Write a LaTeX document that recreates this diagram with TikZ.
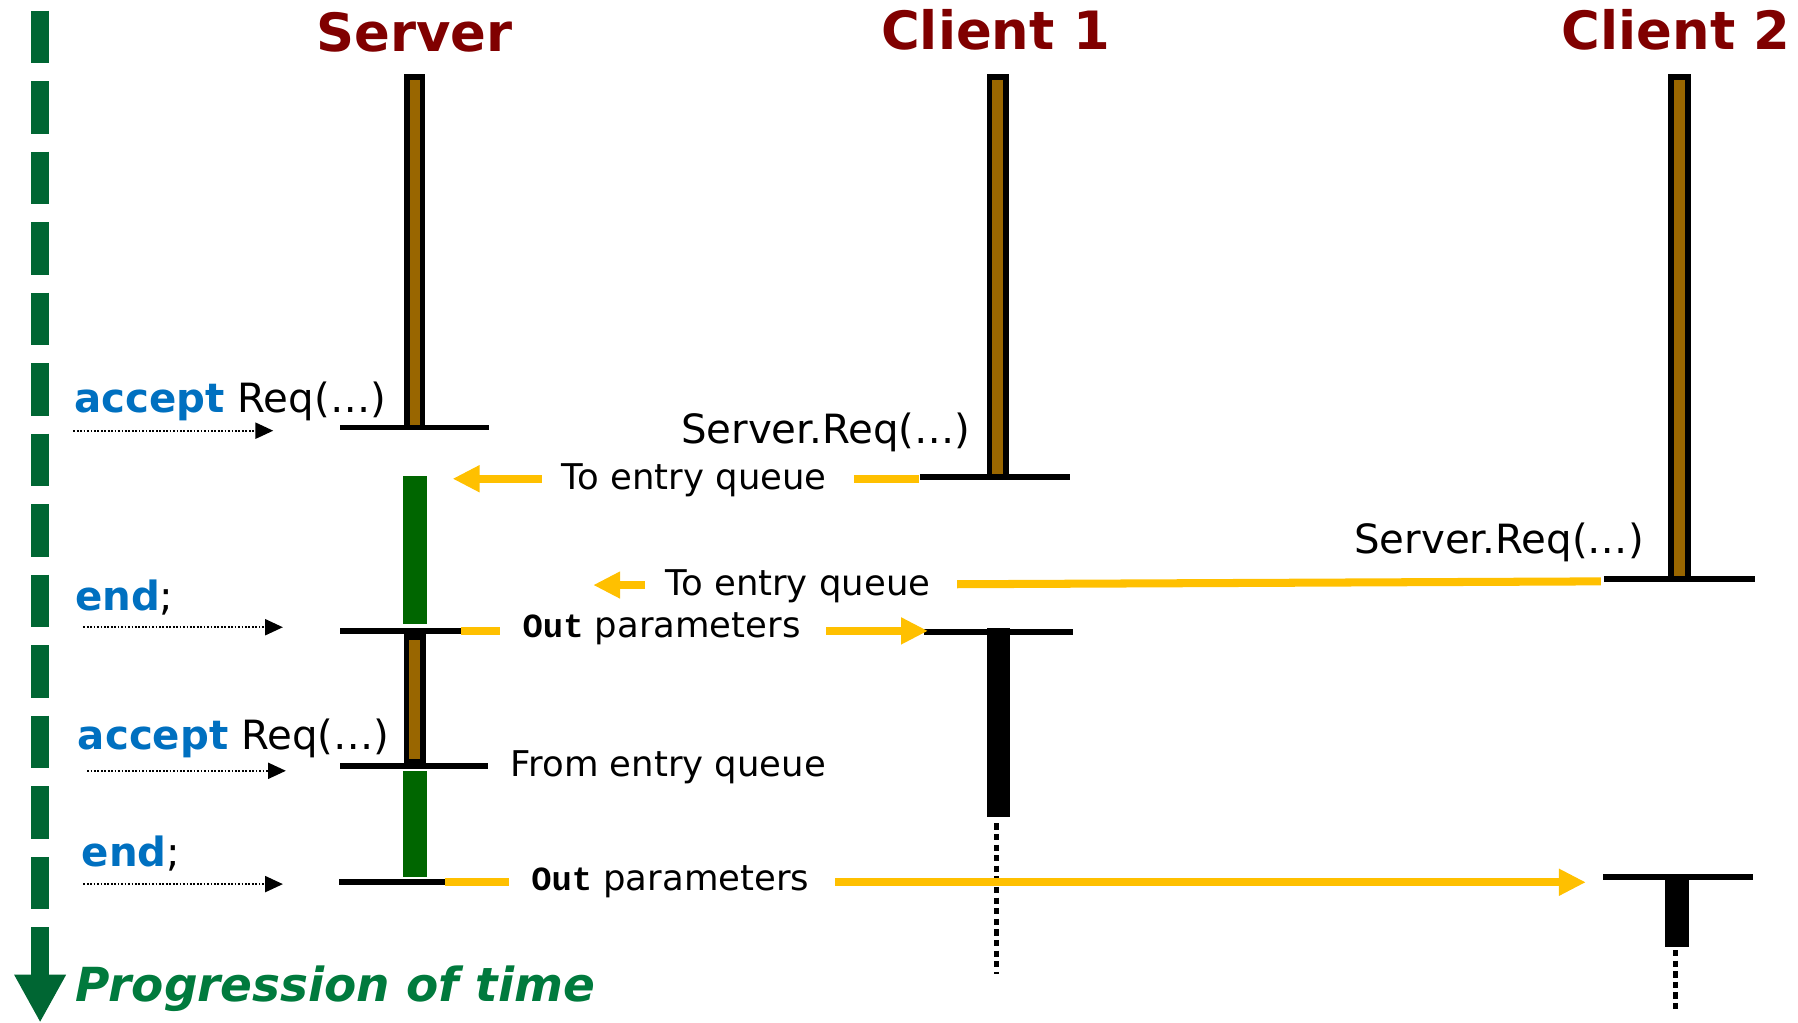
\documentclass[tikz,border=0pt]{standalone}
\usepackage{fontspec}
\setmainfont{DejaVu Sans}
\newfontfamily\monofam{Liberation Mono}
\usetikzlibrary{arrows.meta}

\definecolor{headred}{HTML}{800000}
\definecolor{kwblue}{HTML}{0070C0}
\definecolor{flowyellow}{HTML}{FFC000}
\definecolor{lifebrown}{HTML}{996600}
\definecolor{bargreen}{HTML}{006600}
\definecolor{timegreen}{HTML}{006633}
\definecolor{timetext}{HTML}{007A3D}

\newcommand\headfont{\fontsize{26.2}{30}\selectfont\bfseries}
\newcommand\codefont{\fontsize{20.0}{23}\selectfont}
\newcommand\notefont{\fontsize{17.6}{20}\selectfont}
\newcommand\kw[1]{\textcolor{kwblue}{\bfseries #1}}
\newcommand\outkw{{\monofam\bfseries\fontsize{16.8}{20}\selectfont Out}}

\tikzset{
  lbl/.style={anchor=base west, inner sep=0pt, outer sep=0pt},
  heading/.style={lbl, text=headred, font=\headfont},
  codelbl/.style={lbl, font=\codefont},
  notelbl/.style={lbl, font=\notefont},
  lifebar/.style={draw=black, line width=0.1cm, fill=lifebrown},
  tick/.style={draw=black, line width=0.1cm},
  busybar/.style={fill=black},
  activebar/.style={fill=bargreen},
  flow/.style={draw=flowyellow, line width=0.14cm},
  flowarrow/.style={flow, -{Triangle[length=0.47cm,width=0.44cm]}},
  stamp/.style={draw=black, line width=0.03cm, dash pattern=on 0.03cm off 0.03cm,
                -{Triangle[length=0.31cm,width=0.28cm]}},
  waitline/.style={draw=black, line width=0.08cm, dash pattern=on 0.11cm off 0.075cm},
}

\begin{document}
\begin{tikzpicture}[x=0.02cm, y=-0.02cm]
\useasboundingbox (0,0) rectangle (1568,892);

% ---------- time axis ----------
\coordinate (tstart) at (35,9.3);
\coordinate (tend) at (35,850);
\draw[timegreen, line width=0.32cm, dash pattern=on 0.92cm off 0.31cm] (tstart) -- (tend);
\fill[timegreen] (12.3,850) -- (57.7,850) -- (35,891) -- cycle;
\node[lbl, text=timetext, font=\fontsize{23.3}{27}\selectfont\bfseries\itshape]
  (progress) at (66,873.6) {Progression of time};

% ---------- headings ----------
\node[heading] (hserver) at (276,45) {Server};
\node[heading] (hclient1) at (768.5,43.6) {Client 1};
\node[heading] (hclient2) at (1362,43.6) {Client 2};

% ---------- server ----------
\draw[lifebar] (354.8,67) rectangle (368.5,372.7);
\draw[tick] (296.7,372.7) -- (426.7,372.7);
\fill[activebar] (351.8,415.5) rectangle (372,544.5);
\draw[tick] (296.7,550) -- (402.3,550);
\draw[lifebar] (354.5,555.8) rectangle (369.2,664.6);
\draw[tick] (296.7,668) -- (426,668);
\fill[activebar] (351.8,672.3) rectangle (372,764.6);
\draw[tick] (296,769.2) -- (387.7,769.2);

% ---------- client 1 ----------
\draw[lifebar] (862.8,67) rectangle (877.2,416.2);
\draw[tick] (802.3,416.2) -- (932.7,416.2);
\draw[tick] (806.2,551.2) -- (935.8,551.2);
\fill[busybar] (860.8,547.3) rectangle (880.5,712.2);
\coordinate (c1wtop) at (869,718);
\coordinate (c1wbot) at (869,849);
\draw[waitline] (c1wtop) -- (c1wbot);

% ---------- client 2 ----------
\draw[lifebar] (1457.3,67) rectangle (1472,505);
\draw[tick] (1399,505) -- (1530.5,505);
\draw[tick] (1398.3,765.1) -- (1528.4,765.1);
\fill[busybar] (1452,765) rectangle (1472.8,825.5);
\coordinate (c2wtop) at (1461,828.5);
\coordinate (c2wbot) at (1461,881);
\draw[waitline] (c2wtop) -- (c2wbot);

% ---------- server-side code labels ----------
\node[codelbl] (acc1) at (65,359.5) {\kw{accept} Req(…)};
\node[codelbl] (end1) at (65.5,532.6) {\kw{end};};
\node[codelbl] (acc2) at (68,653.7) {\kw{accept} Req(…)};
\node[codelbl] (end2) at (71.5,755.7) {\kw{end};};

\coordinate (s1a) at (64,375.6);   \coordinate (s1b) at (238.3,375.6);
\coordinate (s2a) at (72.7,547);   \coordinate (s2b) at (246.7,547);
\coordinate (s3a) at (76,672.2);   \coordinate (s3b) at (249.3,672.2);
\coordinate (s4a) at (72.7,771);   \coordinate (s4b) at (246.7,771);
\draw[stamp] (s1a) -- (s1b);
\draw[stamp] (s2a) -- (s2b);
\draw[stamp] (s3a) -- (s3b);
\draw[stamp] (s4a) -- (s4b);

% ---------- calls ----------
\node[codelbl] (call1) at (594,386.6) {Server.Req(…)};
\node[codelbl] (call2) at (1181,482.6) {Server.Req(…)};

% ---------- message flows ----------
\node[notelbl] (q1) at (490,426.7) {To entry queue};
\coordinate (q1r1) at (744.7,417.5); \coordinate (q1r2) at (801.1,417.5);
\coordinate (q1l1) at (472.6,417.5); \coordinate (q1l2) at (394.7,417.5);
\draw[flow] (q1r1) -- (q1r2);
\draw[flowarrow] (q1l1) -- (q1l2);

\node[notelbl] (q2) at (580.5,518.9) {To entry queue};
\coordinate (q2r1) at (834.6,509.5); \coordinate (q2r2) at (1396,507);
\coordinate (q2l1) at (562.5,510.2); \coordinate (q2l2) at (517.3,510.2);
\draw[flow] (q2r1) -- (q2r2);
\draw[flowarrow] (q2l1) -- (q2l2);

\node[notelbl] (out1) at (455.8,556) {\outkw\ parameters};
\coordinate (o1l1) at (402.3,550); \coordinate (o1l2) at (436.4,550);
\coordinate (o1r1) at (720.5,550.2); \coordinate (o1r2) at (809.3,550.2);
\draw[flow] (o1l1) -- (o1l2);
\draw[flowarrow] (o1r1) -- (o1r2);

\node[notelbl] (from) at (445.5,677.3) {From entry queue};

\node[notelbl] (out2) at (463.3,776.4) {\outkw\ parameters};
\coordinate (o2l1) at (387.7,769.2); \coordinate (o2l2) at (444.3,769.2);
\coordinate (o2r1) at (728.4,769.4); \coordinate (o2r2) at (1383,769.4);
\draw[flow] (o2l1) -- (o2l2);
\draw[flowarrow] (o2r1) -- (o2r2);

\end{tikzpicture}
\end{document}
